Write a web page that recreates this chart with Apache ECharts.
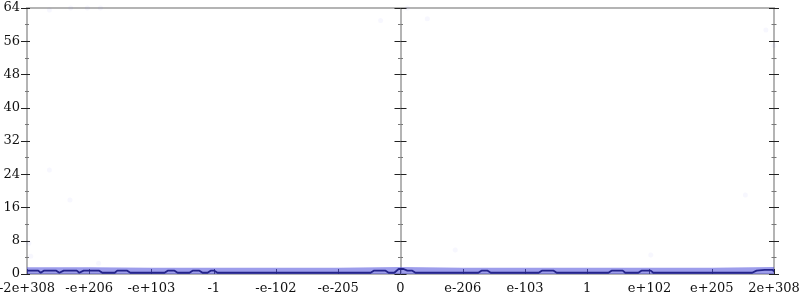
<!DOCTYPE html>
<html><head><meta charset="utf-8">
<script src="https://cdn.jsdelivr.net/npm/echarts@6/dist/echarts.min.js"></script>
<style>html,body{margin:0;padding:0;background:#fff}#c{width:800px;height:300px}</style>
</head><body><div id="c"></div>
<script>
// x positions are tick indices (-6..6) on the piecewise float scale
var xTickLabels = ['-2e+308','-e+206','-e+103','-1','-e-102','-e-205','0','e-206','e-103','1','e+102','e+205','2e+308'];
var yTicks = [0, 8, 16, 24, 32, 40, 48, 56, 64];

var lineX = [-6.00,-5.82,-5.78,-5.73,-5.53,-5.48,-5.41,-5.20,-5.16,-5.09,-4.84,-4.79,-4.59,-4.55,-4.39,-4.34,-3.79,-3.74,-3.63,-3.58,-3.39,-3.34,-3.23,-3.18,-3.10,-3.05,-2.99,-2.94,-0.48,-0.43,-0.24,-0.19,-0.10,-0.03,0.05,0.11,0.19,0.24,1.25,1.30,1.40,1.45,2.22,2.27,2.46,2.51,3.34,3.39,3.57,3.61,3.82,3.87,4.02,4.06,5.65,5.72,5.85,5.88,5.91,5.98,6.00];
var lineY = [0.8,0.8,0.3,0.8,0.8,0.3,0.8,0.8,0.3,0.8,0.8,0.3,0.3,0.8,0.8,0.3,0.3,0.8,0.8,0.3,0.3,0.8,0.8,0.3,0.3,0.8,0.8,0.3,0.3,0.8,0.8,0.3,0.3,1.2,1.2,0.8,0.8,0.3,0.3,0.8,0.8,0.3,0.3,0.8,0.8,0.3,0.3,0.8,0.8,0.3,0.3,0.8,0.8,0.3,0.3,0.8,1.0,1.3,1.0,1.0,0.6];

var bandX = [-6,-5,-4,-3,-2,-1,0,1,2,3,4,5,6];
var bandY = [1.6,1.6,1.5,1.5,1.5,1.5,1.7,1.5,1.5,1.5,1.5,1.5,1.7];

var dotX = [-5.64,-5.31,-5.94,-5.97,-4.85,-5.64,-5.30,-5.03,-4.82,-0.32,0.43,0.11,5.87,6.00,0.88,4.02,5.54];
var dotY = [25,17.8,4.3,7.4,2.6,63.5,64,64,64,61,61.4,64,58.7,55,5.8,4.6,19];

var lineData = lineX.map(function(x,i){return [x, lineY[i]];});
var bandData = bandX.map(function(x,i){return [x, bandY[i]];});
var dotData = dotX.map(function(x,i){return [x, dotY[i]];});

var font = {fontFamily:'DejaVu Serif', fontSize:13, color:'#111'};
var gray = '#b4b4b4';
function yAx(pos, offset, inside, len, labels, minorLen){
  return {type:'value', min:yTicks[0], max:yTicks[yTicks.length-1], interval:8, position:pos, offset:offset,
    axisLine:{show:true, onZero:false, lineStyle:{color:gray, width:2}},
    axisTick:{show:true, inside:inside, length:len, lineStyle:{color:'#222', width:1}},
    minorTick:{show:minorLen > 0, splitNumber:2, length:minorLen, lineStyle:{color:'#777'}},
    splitLine:{show:false},
    axisLabel:labels ? Object.assign({show:true, margin:7, formatter:function(v){return String(v);}}, font) : {show:false}};
}
var chart = echarts.init(document.getElementById('c'), null, {renderer:'canvas'});
chart.setOption({
  animation:false,
  grid:{left:27, right:26, top:8, bottom:26, containLabel:false, outerBoundsMode:'none'},
  xAxis:[
    {type:'value', min:-6, max:6, interval:1, position:'bottom',
     axisLine:{show:true, onZero:false, lineStyle:{color:gray, width:2}},
     axisTick:{show:true, inside:true, length:5, lineStyle:{color:'#222'}},
     splitLine:{show:false},
     axisLabel:Object.assign({show:true, margin:8, formatter:function(v){return xTickLabels[Math.round(v)+6];}}, font)},
    {type:'value', min:-6, max:6, interval:1, position:'top',
     axisLine:{show:true, onZero:false, lineStyle:{color:gray, width:2}},
     axisTick:{show:false}, axisLabel:{show:false}, splitLine:{show:false}}
  ],
  yAxis:[
    yAx('left', 0, false, 6, true, 2),
    yAx('left', 0, true, 3, false, 2),
    yAx('left', -373.5, true, 6, false, 2.5),
    yAx('left', -373.5, false, 6, false, 2.5),
    yAx('right', 0, false, 5, false, 2.5),
    yAx('right', 0, true, 5, false, 2.5)
  ],
  series:[
    {type:'line', data:bandData, symbol:'none', lineStyle:{width:0, opacity:0},
     areaStyle:{color:'rgba(80,80,220,0.8)', origin:'start'}, z:1},
    {type:'scatter', data:dotData, symbolSize:5, itemStyle:{color:'rgba(110,110,230,0.07)'}, z:1},
    {type:'line', data:lineData, symbol:'none', lineStyle:{color:'#24248a', width:1.8}, z:3}
  ]
});
</script></body></html>
